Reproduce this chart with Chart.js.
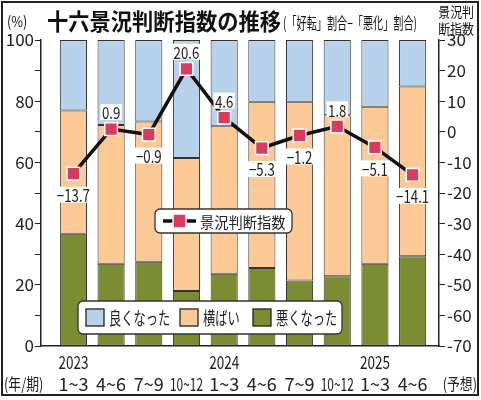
<!DOCTYPE html>
<html>
<head>
<meta charset="utf-8">
<script src="https://cdn.jsdelivr.net/npm/chart.js@4"></script>
<style>
  html, body { margin: 0; padding: 0; background: #fff; }
  #wrap { width: 481px; height: 400px; }
</style>
</head>
<body>
<div id="wrap"><canvas id="diChart" width="481" height="400"></canvas></div>
<script>
// values
const quarters = ['1~3', '4~6', '7~9', '10~12', '1~3', '4~6', '7~9', '10~12', '1~3', '4~6'];
const years = ['2023', '', '', '', '2024', '', '', '', '2025', ''];
const good = [23.0, 27.8, 26.6, 38.6, 28.2, 20.2, 20.2, 24.6, 21.8, 15.2];
const flat = [40.3, 45.3, 45.9, 43.4, 48.2, 54.3, 58.4, 52.6, 51.3, 55.5];
const bad = [36.7, 26.9, 27.5, 18.0, 23.6, 25.5, 21.4, 22.8, 26.9, 29.3];
const di = [-13.7, 0.9, -0.9, 20.6, 4.6, -5.3, -1.2, 1.8, -5.1, -14.1];

const FONT = "'Noto Sans CJK JP', 'Noto Sans', sans-serif";
const BLUE = '#b9d2ec';
const ORANGE = '#fdca97';
const OLIVE = '#7b8c33';
const RED = '#d63c5e';

Chart.defaults.font.family = FONT;
Chart.defaults.color = '#222';

const toXY = arr => arr.map((v, i) => ({ x: i, y: v }));
const fmt = v => (v < 0 ? '−' + Math.abs(v) : String(v));

// newspaper type is narrow, so squeeze text horizontally
function narrowText(ctx, txt, x, y, sx) {
    ctx.save();
    ctx.translate(x, y);
    ctx.scale(sx, 1);
    ctx.fillText(txt, 0, 0);
    ctx.restore();
}

// frame, titles and extra labels
const decorPlugin = {
    id: 'decor',
    beforeDraw(chart) {
        const ctx = chart.ctx;
        ctx.save();
        ctx.fillStyle = '#fff';
        ctx.fillRect(0, 0, chart.width, chart.height);
        ctx.restore();
    },
    afterDraw(chart) {
        const ctx = chart.ctx;
        ctx.save();
        ctx.strokeStyle = '#222';
        ctx.lineWidth = 2;
        ctx.strokeRect(2, 2, 476, 393);

        ctx.fillStyle = '#111';
        ctx.textBaseline = 'middle';
        ctx.textAlign = 'left';
        ctx.font = 'bold 23px ' + FONT;
        ctx.fillText('十六景況判断指数の推移', 47, 21, 234);
        ctx.font = '16px ' + FONT;
        ctx.fillText('(「好転」割合−「悪化」割合)', 283, 23, 134);
        ctx.font = '15px ' + FONT;
        narrowText(ctx, '(%)', 7, 21, 0.85);
        ctx.textAlign = 'right';
        ctx.font = '14px ' + FONT;
        narrowText(ctx, '景況判', 474, 12, 0.85);
        narrowText(ctx, '断指数', 474, 29, 0.85);

        // category labels under the x axis
        const xs = chart.scales.x;
        ctx.font = '18px ' + FONT;
        ctx.textAlign = 'center';
        ctx.fillStyle = '#222';
        quarters.forEach((q, i) => {
            const px = xs.getPixelForValue(i);
            if (years[i]) ctx.fillText(years[i], px, 362, 30);
            ctx.fillText(q, px, 384, 33);
        });
        ctx.textAlign = 'left';
        ctx.font = '16px ' + FONT;
        narrowText(ctx, '(年/期)', 4, 384, 0.8);
        ctx.textAlign = 'right';
        narrowText(ctx, '(予想)', 477, 384, 0.8);
        ctx.restore();
    }
};

// value labels on the DI line plus the two legend boxes
const labelPlugin = {
    id: 'diLabels',
    afterDatasetsDraw(chart) {
        const ctx = chart.ctx;
        const meta = chart.getDatasetMeta(3);
        ctx.save();
        ctx.font = '17px ' + FONT;
        ctx.textAlign = 'center';
        ctx.textBaseline = 'middle';
        meta.data.forEach((pt, i) => {
            const txt = fmt(di[i]);
            const y = di[i] >= 0 ? pt.y - 17 : pt.y + 21;
            const w = ctx.measureText(txt).width * 0.78;
            ctx.fillStyle = '#fff';
            ctx.fillRect(pt.x - w / 2 - 1.5, y - 8, w + 3, 16);
            ctx.fillStyle = '#222';
            narrowText(ctx, txt, pt.x, y + 1, 0.78);
        });

        const box = (x, y, w, h) => {
            ctx.beginPath();
            ctx.roundRect(x, y, w, h, 5);
            ctx.fillStyle = '#fff';
            ctx.fill();
            ctx.lineWidth = 1.3;
            ctx.strokeStyle = '#333';
            ctx.stroke();
        };

        // line legend
        box(155, 209, 137, 24);
        ctx.strokeStyle = '#111';
        ctx.lineWidth = 3.5;
        ctx.beginPath();
        ctx.moveTo(163, 221);
        ctx.lineTo(196, 221);
        ctx.stroke();
        ctx.fillStyle = RED;
        ctx.fillRect(173, 214, 13, 14);
        ctx.strokeStyle = '#fff';
        ctx.lineWidth = 1.5;
        ctx.strokeRect(173, 214, 13, 14);
        ctx.fillStyle = '#222';
        ctx.textAlign = 'left';
        ctx.font = '15px ' + FONT;
        narrowText(ctx, chart.data.datasets[3].label, 200, 222, 0.95);

        // bar legend
        box(78, 301, 264, 33);
        const items = [
            { ds: chart.data.datasets[2], x: 86 },
            { ds: chart.data.datasets[1], x: 180 },
            { ds: chart.data.datasets[0], x: 253 }
        ];
        ctx.font = '18px ' + FONT;
        items.forEach(it => {
            ctx.fillStyle = it.ds.backgroundColor;
            ctx.fillRect(it.x, 309, 18, 17);
            ctx.strokeStyle = '#222';
            ctx.lineWidth = 1.3;
            ctx.strokeRect(it.x, 309, 18, 17);
            ctx.fillStyle = '#222';
            narrowText(ctx, it.ds.label, it.x + 23, 318, 0.68);
        });
        ctx.restore();
    }
};

const barBase = {
    type: 'bar',
    yAxisID: 'y',
    borderColor: '#333',
    borderWidth: 1,
    borderSkipped: false,
    barPercentage: 0.72,
    categoryPercentage: 1,
    order: 2
};

new Chart(document.getElementById('diChart').getContext('2d'), {
    data: {
        datasets: [
            Object.assign({}, barBase, { label: '悪くなった', data: toXY(bad), backgroundColor: OLIVE }),
            Object.assign({}, barBase, { label: '横ばい', data: toXY(flat), backgroundColor: ORANGE }),
            Object.assign({}, barBase, { label: '良くなった', data: toXY(good), backgroundColor: BLUE }),
            {
                type: 'line',
                label: '景況判断指数',
                data: toXY(di),
                yAxisID: 'y2',
                borderColor: '#111',
                borderWidth: 3.5,
                tension: 0,
                pointStyle: 'rect',
                pointRadius: 9,
                pointBackgroundColor: RED,
                pointBorderColor: '#fff',
                pointBorderWidth: 1.5,
                order: 1
            }
        ]
    },
    options: {
        responsive: false,
        animation: false,
        devicePixelRatio: 1,
        layout: { padding: { top: 40, left: 0, right: 0, bottom: 0 } },
        plugins: {
            legend: { display: false },
            tooltip: { enabled: false }
        },
        scales: {
            x: {
                type: 'linear',
                stacked: true,
                offset: false,
                min: -0.86,
                max: 9.7,
                afterBuildTicks: s => { s.ticks = quarters.map((q, i) => ({ value: i })); },
                afterFit: s => { s.height = 54; },
                grid: { display: false },
                border: { display: true, color: '#222', width: 1.5 },
                ticks: { display: false }
            },
            y: {
                position: 'left',
                stacked: true,
                min: 0,
                max: 100,
                afterFit: s => { s.width = 41; },
                afterBuildTicks: s => {
                    s.ticks = [];
                    for (let v = 0; v <= 100; v += 10) s.ticks.push({ value: v });
                },
                grid: { drawOnChartArea: false, drawTicks: true, tickLength: 6, color: '#222', lineWidth: 1 },
                border: { display: true, color: '#222', width: 1.5 },
                ticks: {
                    padding: 1,
                    color: '#222',
                    font: { size: 17 },
                    callback: v => (v % 20 === 0 ? v : '')
                }
            },
            y2: {
                position: 'right',
                min: -70,
                max: 30,
                afterFit: s => { s.width = 42; },
                afterBuildTicks: s => {
                    s.ticks = [];
                    for (let v = 30; v >= -70; v -= 10) s.ticks.push({ value: v });
                },
                grid: { drawOnChartArea: false, drawTicks: true, tickLength: 6, color: '#222', lineWidth: 1 },
                border: { display: true, color: '#222', width: 1.5 },
                ticks: {
                    padding: 2,
                    color: '#222',
                    font: { size: 17 },
                    callback: v => v
                }
            }
        }
    },
    plugins: [decorPlugin, labelPlugin]
});
</script>
</body>
</html>
